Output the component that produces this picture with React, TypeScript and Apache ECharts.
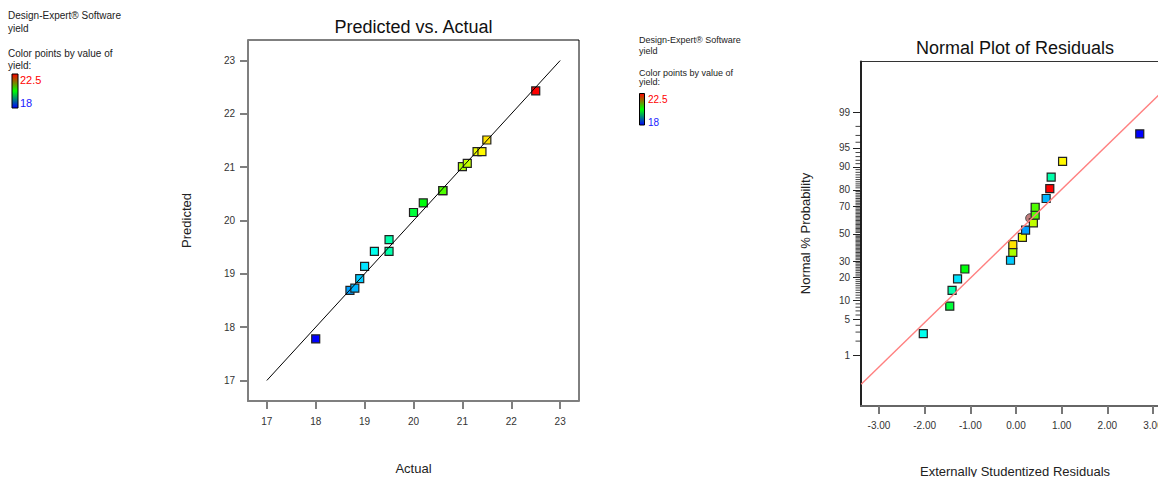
import React, { useEffect, useRef } from "react";
import * as echarts from "echarts";

// ---------- Data ----------
// Predicted vs. Actual (yield)
const actual = [18.0, 18.7, 18.8, 18.9, 19.0, 19.2, 19.5, 19.5, 20.0, 20.2, 20.6, 20.6, 21.0, 21.1, 21.3, 21.4, 21.5, 22.5];
const predicted = [17.78, 18.69, 18.73, 18.91, 19.14, 19.42, 19.42, 19.64, 20.15, 20.33, 20.56, 20.56, 21.01, 21.07, 21.29, 21.29, 21.51, 22.43];
const diagonal = [17, 23];
const pvaTicks = [17, 18, 19, 20, 21, 22, 23];

// Normal plot of residuals
const residuals = [-2.03, -1.45, -1.40, -1.28, -1.12, -0.12, -0.07, -0.07, 0.14, 0.21, 0.38, 0.42, 0.42, 0.66, 0.74, 0.77, 1.02, 2.71];
const normalPct = [2.8, 8.3, 13.9, 19.4, 25.0, 30.6, 36.1, 41.7, 47.2, 52.8, 58.3, 63.9, 69.4, 75.0, 80.6, 86.1, 91.7, 97.2];
const residualYield = [19.2, 20.0, 19.5, 19.0, 20.2, 18.9, 21.0, 21.5, 21.3, 18.7, 21.1, 20.6, 20.6, 18.8, 22.5, 19.5, 21.4, 18.0];
const circlePoint = [0.31, 61.7];
const fitLine = [[-3.39, 0.2], [3.39, 99.8]];
const residTicks = [-3, -2, -1, 0, 1, 2, 3];
const probTicks = [1, 5, 10, 20, 30, 50, 70, 80, 90, 95, 99];

const colorMin = 18;
const colorMax = 22.5;

// ---------- Helpers ----------
function probit(p: number): number {
  const a = [-3.969683028665376e1, 2.209460984245205e2, -2.759285104469687e2, 1.38357751867269e2, -3.066479806614716e1, 2.506628277459239];
  const b = [-5.447609879822406e1, 1.615858368580409e2, -1.556989798598866e2, 6.680131188771972e1, -1.328068155288572e1];
  const c = [-7.784894002430293e-3, -3.223964580411365e-1, -2.400758277161838, -2.549671348201727, 4.374664141464968, 2.938163982698783];
  const d = [7.784695709041462e-3, 3.224671290700398e-1, 2.445134137142996, 3.754408661907416];
  const pl = 0.02425;
  if (p < pl) {
    const q = Math.sqrt(-2 * Math.log(p));
    return (((((c[0] * q + c[1]) * q + c[2]) * q + c[3]) * q + c[4]) * q + c[5]) / ((((d[0] * q + d[1]) * q + d[2]) * q + d[3]) * q + 1);
  }
  if (p <= 1 - pl) {
    const q = p - 0.5;
    const r = q * q;
    return ((((((a[0] * r + a[1]) * r + a[2]) * r + a[3]) * r + a[4]) * r + a[5]) * q) / (((((b[0] * r + b[1]) * r + b[2]) * r + b[3]) * r + b[4]) * r + 1);
  }
  const q = Math.sqrt(-2 * Math.log(1 - p));
  return -(((((c[0] * q + c[1]) * q + c[2]) * q + c[3]) * q + c[4]) * q + c[5]) / ((((d[0] * q + d[1]) * q + d[2]) * q + d[3]) * q + 1);
}
const toZ = (pct: number) => probit(pct / 100);

const FONT = 'Arial, "Liberation Sans", sans-serif';
const rainbow = ["#0000ff", "#00ffff", "#00ff00", "#ffff00", "#ff0000"];

export default function App() {
  const ref = useRef<HTMLDivElement>(null);

  useEffect(() => {
    document.body.style.margin = "0";
    if (!ref.current) return;
    const chart = echarts.init(ref.current, undefined, { renderer: "svg" });

    const probTickZ = probTicks.map(toZ);
    const zMax = 3.295;
    const resMin = -3.394;
    const resMax = 3.394;

    const minorPct: number[] = [];
    for (let p = 2; p <= 98; p++) if (probTicks.indexOf(p) < 0) minorPct.push(p);
    const minorData = minorPct.map((p) => [resMin, toZ(p)]);

    const legend = (x: number, y0: number[], fs: number, bar: number[], lab: number[]) => [
      { type: "text", x: x, y: y0[0], style: { text: "Design-Expert® Software", fontSize: fs, fontFamily: FONT, fill: "#222", textVerticalAlign: "middle" } },
      { type: "text", x: x, y: y0[1], style: { text: "yield", fontSize: fs, fontFamily: FONT, fill: "#222", textVerticalAlign: "middle" } },
      { type: "text", x: x, y: y0[2], style: { text: "Color points by value of", fontSize: fs, fontFamily: FONT, fill: "#222", textVerticalAlign: "middle" } },
      { type: "text", x: x, y: y0[3], style: { text: "yield:", fontSize: fs, fontFamily: FONT, fill: "#222", textVerticalAlign: "middle" } },
      {
        type: "rect",
        shape: { x: bar[0], y: bar[1], width: bar[2], height: bar[3] },
        style: {
          fill: {
            type: "linear", x: 0, y: 0, x2: 0, y2: 1,
            colorStops: [
              { offset: 0, color: "#ff0000" },
              { offset: 0.5, color: "#00ff00" },
              { offset: 1, color: "#0000ff" },
            ],
          },
          stroke: "#000",
          lineWidth: 1,
        },
      },
      { type: "text", x: lab[0], y: lab[1], style: { text: String(colorMax), fontSize: fs + 1, fontFamily: FONT, fill: "#ff0000", textVerticalAlign: "middle" } },
      { type: "text", x: lab[0], y: lab[2], style: { text: String(colorMin), fontSize: fs + 1, fontFamily: FONT, fill: "#2020ff", textVerticalAlign: "middle" } },
    ];

    const axisText = { color: "#333", fontSize: 10, fontFamily: FONT };

    chart.setOption({
      animation: false,
      backgroundColor: "#fff",
      grid: [
        { left: 248, top: 40, width: 331, height: 361, outerBoundsMode: "none", containLabel: false, show: true, borderColor: "#000", borderWidth: 1, backgroundColor: "transparent" },
        { left: 861, top: 61.5, width: 310, height: 344.5, outerBoundsMode: "none", containLabel: false, show: true, borderColor: "#333", borderWidth: 1, backgroundColor: "transparent" },
      ],
      xAxis: [
        {
          type: "value", gridIndex: 0, min: 16.615, max: 23.385,
          axisLine: { show: true, onZero: false, lineStyle: { color: "#7f7f7f", width: 2 } },
          axisTick: { show: true, length: 8, customValues: pvaTicks, lineStyle: { color: "#7f7f7f", width: 2 } },
          axisLabel: { ...axisText, margin: 15, customValues: pvaTicks },
          splitLine: { show: false },
        },
        {
          type: "value", gridIndex: 1, min: resMin, max: resMax,
          axisLine: { show: true, onZero: false, lineStyle: { color: "#666", width: 2 } },
          axisTick: { show: true, length: 8, customValues: residTicks, lineStyle: { color: "#777", width: 2 } },
          axisLabel: { ...axisText, margin: 14, customValues: residTicks, formatter: (v: number) => v.toFixed(2) },
          splitLine: { show: false },
        },
      ],
      yAxis: [
        {
          type: "value", gridIndex: 0, min: 16.615, max: 23.385,
          axisLine: { show: true, onZero: false, lineStyle: { color: "#7f7f7f", width: 2 } },
          axisTick: { show: true, length: 8, customValues: pvaTicks, lineStyle: { color: "#7f7f7f", width: 2 } },
          axisLabel: { ...axisText, margin: 13, customValues: pvaTicks },
          splitLine: { show: false },
        },
        {
          type: "value", gridIndex: 1, min: -zMax, max: zMax, position: "left",
          axisLine: { show: true, onZero: false, lineStyle: { color: "#222", width: 2 } },
          axisTick: { show: true, length: 8, customValues: probTickZ, lineStyle: { color: "#222", width: 1 } },
          axisLabel: {
            ...axisText, margin: 11, customValues: probTickZ,
            formatter: (v: number) => {
              const i = probTickZ.findIndex((t) => Math.abs(t - v) < 1e-6);
              return i >= 0 ? String(probTicks[i]) : "";
            },
          },
          splitLine: { show: false },
        },
      ],
      visualMap: [
        { type: "continuous", show: false, min: colorMin, max: colorMax, dimension: 0, seriesIndex: 1, inRange: { color: rainbow } },
        { type: "continuous", show: false, min: colorMin, max: colorMax, dimension: 2, seriesIndex: 4, inRange: { color: rainbow } },
      ],
      series: [
        {
          type: "line", xAxisIndex: 0, yAxisIndex: 0, symbol: "none", silent: true,
          data: [[diagonal[0], diagonal[0]], [diagonal[1], diagonal[1]]],
          lineStyle: { color: "#000", width: 1 },
        },
        {
          type: "scatter", xAxisIndex: 0, yAxisIndex: 0, symbol: "rect", symbolSize: 8,
          data: actual.map((a, i) => [a, predicted[i]]),
          itemStyle: { borderColor: "#222", borderWidth: 1.2, opacity: 1 },
        },
        {
          type: "line", xAxisIndex: 1, yAxisIndex: 1, symbol: "none", silent: true,
          data: fitLine.map(([r, p]) => [r, toZ(p)]),
          lineStyle: { color: "#ff8080", width: 1.4 },
        },
        {
          type: "scatter", xAxisIndex: 1, yAxisIndex: 1, symbol: "circle", symbolSize: 9,
          data: [[circlePoint[0], toZ(circlePoint[1])]],
          itemStyle: { color: "#b25c5c", borderColor: "#333", borderWidth: 1 },
        },
        {
          type: "scatter", xAxisIndex: 1, yAxisIndex: 1, symbol: "rect", symbolSize: 8,
          data: residuals.map((r, i) => [r, toZ(normalPct[i]), residualYield[i]]),
          itemStyle: { borderColor: "#222", borderWidth: 1.2, opacity: 1 },
        },
        {
          // minor ticks of the probability axis, one for every whole percent
          type: "scatter", xAxisIndex: 1, yAxisIndex: 1, silent: true, clip: false,
          symbol: "rect", symbolSize: [5, 1], symbolOffset: [-3, 0],
          data: minorData,
          itemStyle: { color: "#111", borderWidth: 0 },
        },
      ],
      graphic: [
        ...legend(8, [15, 28, 53, 65.5], 10, [12, 74, 6, 34], [20, 80, 103]),
        ...legend(639, [40, 50.5, 73, 82], 9, [639.5, 93.5, 5, 31.5], [648, 99, 122]),
        { type: "text", x: 413.5, y: 27, style: { text: "Predicted vs. Actual", fontSize: 18, fontFamily: FONT, fill: "#111", textAlign: "center", textVerticalAlign: "middle" } },
        { type: "text", x: 1015, y: 48, style: { text: "Normal Plot of Residuals", fontSize: 18, fontFamily: FONT, fill: "#111", textAlign: "center", textVerticalAlign: "middle" } },
        { type: "text", x: 186, y: 220.5, rotation: Math.PI / 2, style: { text: "Predicted", fontSize: 13, fontFamily: FONT, fill: "#222", textAlign: "center", textVerticalAlign: "middle" } },
        { type: "text", x: 413.5, y: 468, style: { text: "Actual", fontSize: 13, fontFamily: FONT, fill: "#222", textAlign: "center", textVerticalAlign: "middle" } },
        { type: "text", x: 805, y: 233.5, rotation: Math.PI / 2, style: { text: "Normal % Probability", fontSize: 13, fontFamily: FONT, fill: "#222", textAlign: "center", textVerticalAlign: "middle" } },
        { type: "text", x: 1015, y: 471, style: { text: "Externally Studentized Residuals", fontSize: 13, fontFamily: FONT, fill: "#222", textAlign: "center", textVerticalAlign: "middle" } },
      ],
    });

    return () => chart.dispose();
  }, []);

  return <div ref={ref} style={{ width: 1158, height: 477 }} />;
}
